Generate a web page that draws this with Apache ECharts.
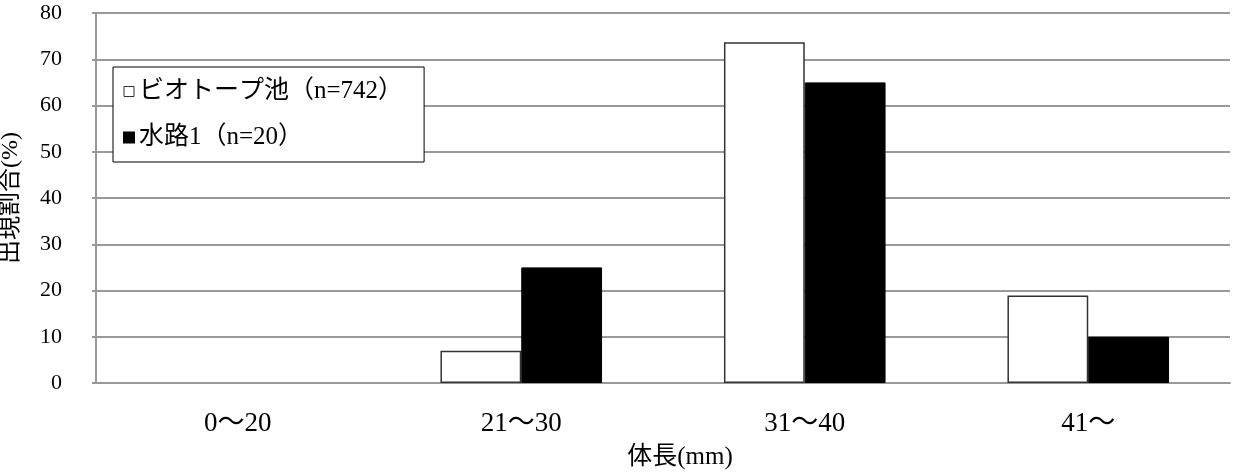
<!DOCTYPE html>
<html>
<head>
<meta charset="utf-8">
<script src="https://cdn.jsdelivr.net/npm/echarts@6/dist/echarts.min.js"></script>
<style>
  html, body { margin: 0; padding: 0; background: #fff; }
  #chart { width: 1233px; height: 474px; }
</style>
</head>
<body>
<div id="chart"></div>
<script>
const categories = ['0～20', '21～30', '31～40', '41～']
const biotopeValues = [0, 7, 73.7, 18.9]
const suiroValues = [0, 25, 65, 10]
const seriesNames = ['ビオトープ池（n=742）', '水路1（n=20）']
const yTicks = [0, 10, 20, 30, 40, 50, 60, 70, 80]

const font = "'Liberation Serif', 'Noto Sans CJK JP', serif"
const chart = echarts.init(document.getElementById('chart'))

// zero-height bars draw no outline
const toItems = vals => vals.map(v => v === 0 ? { value: v, itemStyle: { borderWidth: 0 } } : v)

chart.setOption({
  animation: false,
  textStyle: { fontFamily: font, color: '#000' },
  grid: { left: 96, right: 3, top: 13, bottom: 91, outerBoundsMode: 'none' },
  legend: {
    orient: 'vertical',
    left: 113,
    top: 67,
    padding: [12, 21, 12, 10],
    itemGap: 21,
    itemWidth: 10,
    itemHeight: 10,
    backgroundColor: '#fff',
    borderColor: '#000',
    borderWidth: 1,
    borderRadius: 0,
    textStyle: { fontSize: 25, fontFamily: font, color: '#000' },
    data: [
      { name: seriesNames[0], icon: 'rect', itemStyle: { color: '#fff', borderColor: '#333', borderWidth: 1 } },
      { name: seriesNames[1], icon: 'rect', itemStyle: { color: '#000' } }
    ]
  },
  xAxis: {
    type: 'category',
    data: categories,
    name: '体長(mm)',
    nameLocation: 'middle',
    nameGap: 62,
    nameTextStyle: { fontSize: 25, fontFamily: font, color: '#000', padding: [0, 0, 0, 34] },
    axisLine: { lineStyle: { color: '#999', width: 2 } },
    axisTick: { show: false },
    axisLabel: { fontSize: 27, color: '#000', margin: 27 }
  },
  yAxis: {
    type: 'value',
    min: yTicks[0],
    max: yTicks[yTicks.length - 1],
    interval: 10,
    name: '出現割合(%)',
    nameLocation: 'middle',
    nameGap: 73,
    nameRotate: 90,
    nameTextStyle: { fontSize: 24, fontFamily: font, color: '#000' },
    axisLine: { show: true, lineStyle: { color: '#999', width: 2 } },
    axisTick: { show: true, length: 4, lineStyle: { color: '#999', width: 2 } },
    axisLabel: { fontSize: 22, color: '#000', margin: 34 },
    splitLine: { lineStyle: { color: '#999', width: 2 } }
  },
  series: [
    {
      name: seriesNames[0],
      type: 'bar',
      data: toItems(biotopeValues),
      barGap: '0%',
      barCategoryGap: '43%',
      itemStyle: { color: '#fff', borderColor: '#333', borderWidth: 1.5 }
    },
    {
      name: seriesNames[1],
      type: 'bar',
      data: toItems(suiroValues),
      itemStyle: { color: '#000', borderColor: '#000', borderWidth: 1 }
    }
  ]
})
</script>
</body>
</html>
